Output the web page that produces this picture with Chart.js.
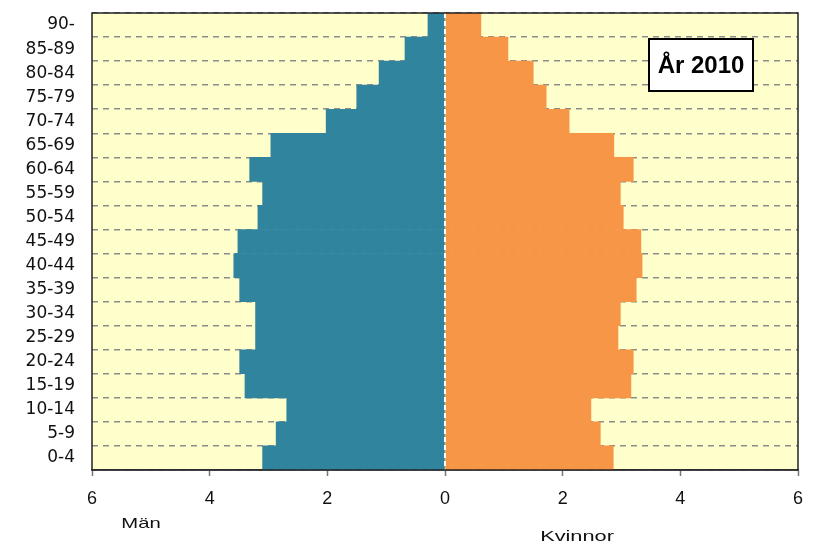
<!DOCTYPE html>
<html>
<head>
<meta charset="utf-8">
<script src="https://cdn.jsdelivr.net/npm/chart.js@4.4.0/dist/chart.umd.min.js"></script>
<style>
  html, body { margin: 0; padding: 0; background: #fff; }
  #wrap { width: 813px; height: 547px; }
</style>
</head>
<body>
<div id="wrap"><canvas id="myChart" width="813" height="547"></canvas></div>
<script>
// age groups, top to bottom
var ages = ['90-', '85-89', '80-84', '75-79', '70-74', '65-69', '60-64', '55-59', '50-54', '45-49',
            '40-44', '35-39', '30-34', '25-29', '20-24', '15-19', '10-14', '5-9', '0-4'];
// percent of population
var men = [0.29, 0.68, 1.12, 1.50, 2.02, 2.96, 3.32, 3.10, 3.18, 3.52,
           3.59, 3.49, 3.22, 3.22, 3.49, 3.40, 2.69, 2.87, 3.10];
var women = [0.61, 1.07, 1.50, 1.72, 2.11, 2.87, 3.20, 2.98, 3.03, 3.33,
             3.35, 3.25, 2.98, 2.94, 3.20, 3.16, 2.48, 2.64, 2.86];
var xMin = -6, xMax = 6, xStep = 2;
var yearLabel = 'År 2010';

// plot background + frame + zero line + texts
var extras = {
    id: 'extras',
    beforeDraw: function (chart) {
        var a = chart.chartArea, ctx = chart.ctx;
        ctx.save();
        ctx.fillStyle = '#FFFFCC';
        ctx.fillRect(a.left, a.top, a.right - a.left, a.bottom - a.top);
        ctx.restore();
    },
    afterDatasetsDraw: function (chart) {
        var a = chart.chartArea, ctx = chart.ctx;
        var x0 = chart.scales.x.getPixelForValue(0);
        ctx.save();
        ctx.strokeStyle = '#ffffff';
        ctx.lineWidth = 2;
        ctx.setLineDash([5, 3]);
        ctx.beginPath();
        ctx.moveTo(x0, a.top);
        ctx.lineTo(x0, a.bottom);
        ctx.stroke();
        ctx.restore();
    },
    afterDraw: function (chart) {
        var a = chart.chartArea, ctx = chart.ctx;
        ctx.save();
        // frame
        ctx.strokeStyle = '#222';
        ctx.lineWidth = 1.5;
        ctx.strokeRect(a.left, a.top, a.right - a.left, a.bottom - a.top);

        // year box
        ctx.fillStyle = '#fff';
        ctx.fillRect(649, 39, 104, 52);
        ctx.strokeStyle = '#000';
        ctx.lineWidth = 2;
        ctx.strokeRect(649, 39, 104, 52);
        ctx.fillStyle = '#000';
        ctx.font = 'bold 24px "Liberation Sans", Arial, sans-serif';
        ctx.textAlign = 'center';
        ctx.textBaseline = 'middle';
        ctx.fillText(yearLabel, 701, 66);

        // axis side labels
        ctx.font = '15px "Liberation Sans", Arial, sans-serif';
        ctx.fillStyle = '#111';
        ctx.save();
        ctx.translate(141, 524);
        ctx.scale(1.35, 1);
        ctx.fillText('Män', 0, 0);
        ctx.restore();
        ctx.save();
        ctx.translate(577, 537);
        ctx.scale(1.45, 1);
        ctx.fillText('Kvinnor', 0, 0);
        ctx.restore();
        ctx.restore();
    }
};

const ctx = document.getElementById('myChart').getContext('2d');
const myChart = new Chart(ctx, {
    type: 'bar',
    data: {
        labels: ages,
        datasets: [{
            label: 'Män',
            data: men.map(function (v) { return -v; }),
            backgroundColor: '#31849E',
            barPercentage: 1,
            categoryPercentage: 1
        }, {
            label: 'Kvinnor',
            data: women,
            backgroundColor: '#F79646',
            barPercentage: 1,
            categoryPercentage: 1
        }]
    },
    plugins: [extras],
    options: {
        indexAxis: 'y',
        responsive: false,
        animation: false,
        layout: {
            padding: { top: 13, right: 15, left: 0, bottom: 0 }
        },
        plugins: {
            legend: { display: false },
            tooltip: { enabled: false }
        },
        scales: {
            x: {
                stacked: true,
                min: xMin,
                max: xMax,
                afterFit: function (scale) {
                    scale.height = 77;
                    scale.paddingLeft = 0;
                    scale.paddingRight = 0;
                },
                ticks: {
                    stepSize: xStep,
                    padding: 12,
                    color: '#111',
                    font: { family: '"Liberation Sans", Arial, sans-serif', size: 18 },
                    callback: function (value) { return Math.abs(value); }
                },
                grid: {
                    drawOnChartArea: false,
                    drawTicks: true,
                    tickLength: 6,
                    tickColor: '#777',
                    tickWidth: 1.5
                },
                border: { display: true, color: '#555', width: 1.5 }
            },
            y: {
                stacked: true,
                offset: true,
                afterFit: function (scale) {
                    scale.width = 92;
                    scale.paddingTop = 0;
                    scale.paddingBottom = 0;
                },
                ticks: {
                    autoSkip: false,
                    padding: 17,
                    color: '#111',
                    font: { family: '"DejaVu Sans", sans-serif', size: 17 }
                },
                grid: {
                    offset: true,
                    drawTicks: false,
                    color: '#8c8c8c',
                    lineWidth: 1.5
                },
                border: { display: false, dash: [6, 5] }
            }
        }
    }
});
</script>
</body>
</html>
